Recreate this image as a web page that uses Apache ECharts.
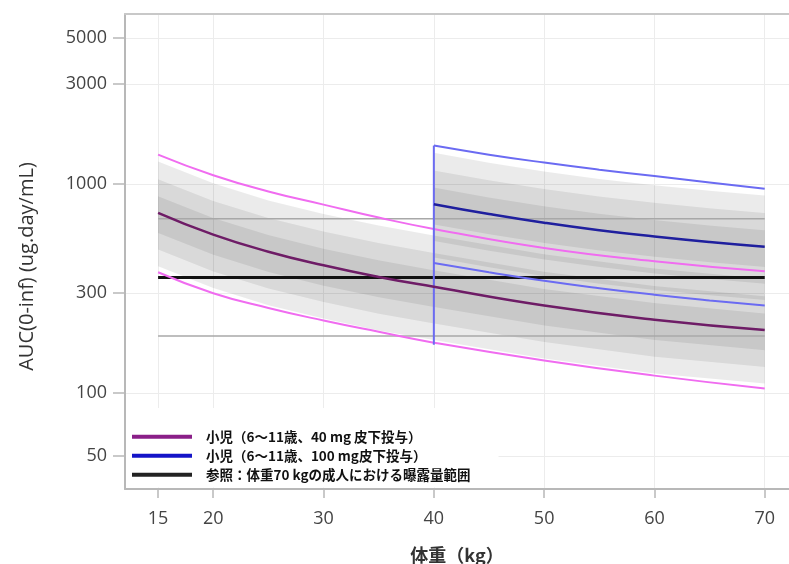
<!DOCTYPE html>
<html>
<head>
<meta charset="utf-8">
<script src="https://cdn.jsdelivr.net/npm/echarts@6/dist/echarts.min.js"></script>
<style>
html, body { margin: 0; padding: 0; background: #fff; }
#main { width: 789px; height: 564px; }
</style>
</head>
<body>
<div id="main"></div>
<script>
// 体重 (kg)
const wt1 = [15, 20, 25, 30, 35, 40, 50, 60, 70];
const wt2 = [40, 45, 50, 55, 60, 65, 70];

// 小児 40 mg: 中央値, 5%/95% 点 (ピンク), 網掛け帯
const med1 = [727, 572, 474, 408, 359, 322, 262, 224, 200];
const hi1 = [1380, 1100, 920, 796, 690, 609, 494, 427, 382];
const lo1 = [378, 300, 255, 222, 196, 174, 143, 121, 105];
const outerUp1 = [1280, 1007, 834, 718, 632, 567, 461, 394, 352];
const outerLo1 = [404, 318, 263, 227, 199, 179, 146, 124, 111];
const midUp1 = [1054, 829, 687, 592, 521, 467, 380, 325, 290];
const midLo1 = [485, 381, 316, 272, 239, 215, 175, 149, 133];
const innerUp1 = [872, 686, 569, 490, 431, 386, 314, 269, 240];
const innerLo1 = [582, 458, 379, 326, 287, 258, 210, 179, 160];

// 小児 100 mg
const med2 = [800, 718, 652, 600, 560, 527, 500];
const hi2 = [1525, 1380, 1265, 1170, 1090, 1015, 948];
const lo2 = [418, 378, 344, 317, 295, 277, 262];
const outerUp2 = [1408, 1264, 1148, 1056, 986, 928, 880];
const outerLo2 = [444, 399, 362, 333, 311, 293, 278];
const midUp2 = [1160, 1041, 945, 870, 812, 764, 725];
const midLo2 = [533, 479, 435, 400, 373, 351, 333];
const innerUp2 = [960, 862, 782, 720, 672, 632, 600];
const innerLo2 = [640, 574, 522, 480, 448, 422, 400];

// 切替点の縦線
const switchWt = [40, 40];
const switchAuc = [170, 1525];

// 参照: 成人 70 kg
const refWt = [15, 70];
const refMed = [357, 357];
const refLow = [187, 187];
const refHigh = [682, 682];

const xTicks = [15, 20, 30, 40, 50, 60, 70];
const yTicks = [50, 100, 300, 1000, 3000, 5000];

const name1 = '小児（6～11歳、40 mg 皮下投与）';
const name2 = '小児（6～11歳、100 mg皮下投与）';
const name3 = '参照：体重70 kgの成人における曝露量範囲';

const pair = (xs, ys) => xs.map((x, i) => [x, ys[i]]);

// 帯: 上側を左→右、下側を右→左でつないだ多角形
function band(xs, lo, up) {
  return {
    type: 'custom', silent: true, z: 1, clip: true,
    data: [[xs[0], lo[0]]],
    renderItem: (params, api) => {
      const pts = xs.map((x, i) => api.coord([x, up[i]]))
        .concat(xs.map((x, i) => api.coord([x, lo[i]])).reverse());
      return { type: 'polygon', shape: { points: pts }, style: { fill: 'rgba(0,0,0,0.08)' } };
    }
  };
}

function line(name, xs, ys, color, width, z) {
  return { type: 'line', name, data: pair(xs, ys), smooth: true, symbol: 'none',
    itemStyle: { color }, lineStyle: { color, width }, z };
}

const series = [
  band(wt1, outerLo1, outerUp1),
  band(wt1, midLo1, midUp1),
  band(wt1, innerLo1, innerUp1),
  band(wt2, outerLo2, outerUp2),
  band(wt2, midLo2, midUp2),
  band(wt2, innerLo2, innerUp2),
  line('refLow', refWt, refLow, '#a8a8a8', 1.5, 2),
  line('refHigh', refWt, refHigh, '#a8a8a8', 1.5, 2),
  line(name3, refWt, refMed, '#111', 3, 3),
  line('hi1', wt1, hi1, '#f06cf0', 2, 4),
  line('lo1', wt1, lo1, '#f06cf0', 2, 4),
  line(name1, wt1, med1, '#6e1c66', 2.5, 5),
  line('sw', switchWt, switchAuc, '#6b6bf2', 2, 4),
  line('hi2', wt2, hi2, '#6b6bf2', 2, 4),
  line('lo2', wt2, lo2, '#6b6bf2', 2, 4),
  line(name2, wt2, med2, '#1f1f9e', 2.5, 5)
];

const labelFont = { color: '#444', fontSize: 18, fontFamily: 'Open Sans' };

const chart = echarts.init(document.getElementById('main'));
chart.setOption({
  animation: false,
  grid: { left: 125, top: 14, right: 0, bottom: 75, outerBoundsMode: 'none' },
  legend: {
    data: [
      { name: name1, itemStyle: { color: '#8a1f88' } },
      { name: name2, itemStyle: { color: '#1414c8' } },
      { name: name3, itemStyle: { color: '#222' } }
    ],
    orient: 'vertical',
    left: 126,
    top: 408,
    padding: [22, 28, 6, 6],
    backgroundColor: '#fff',
    icon: 'rect',
    itemWidth: 60,
    itemHeight: 4,
    itemGap: 5.5,
    selectedMode: false,
    textStyle: { fontFamily: 'Noto Sans CJK JP', fontSize: 13.5, color: '#111', fontWeight: 'bold',
      padding: [0, 0, 0, 9] }
  },
  xAxis: [
    {
      type: 'value', min: 12, max: 72.2,
      axisLine: { show: true, onZero: false, lineStyle: { color: '#b8b8b8', width: 2 } },
      axisTick: { show: true, length: 9, customValues: xTicks, lineStyle: { color: '#b8b8b8', width: 1.5 } },
      axisLabel: Object.assign({ customValues: xTicks, margin: 21 }, labelFont),
      splitLine: { show: true, lineStyle: { color: '#ececec' } },
      name: '体重（kg）', nameLocation: 'middle', nameGap: 57,
      nameTextStyle: { fontFamily: 'Noto Sans CJK JP', fontSize: 18, color: '#333', fontWeight: 'bold' }
    },
    {
      type: 'value', position: 'top', min: 12, max: 72.2,
      axisLine: { show: true, lineStyle: { color: '#c8c8c8', width: 2 } },
      axisTick: { show: false }, axisLabel: { show: false }, splitLine: { show: false }
    }
  ],
  yAxis: {
    type: 'log', logBase: 10, min: 34.7, max: 6500,
    axisLine: { show: true, lineStyle: { color: '#b8b8b8', width: 2 } },
    axisTick: { show: true, length: 12, customValues: yTicks, lineStyle: { color: '#b8b8b8', width: 1.5 } },
    axisLabel: Object.assign({ customValues: yTicks, margin: 18, formatter: v => String(v) }, labelFont),
    splitLine: { show: true, lineStyle: { color: '#ececec' } },
    name: 'AUC(0-inf) (ug.day/mL)', nameLocation: 'middle', nameGap: 88, nameRotate: 90,
    nameTextStyle: { fontFamily: 'Open Sans', fontSize: 20, color: '#333', padding: [0, 30, 0, 0] }
  },
  series
});
</script>
</body>
</html>
